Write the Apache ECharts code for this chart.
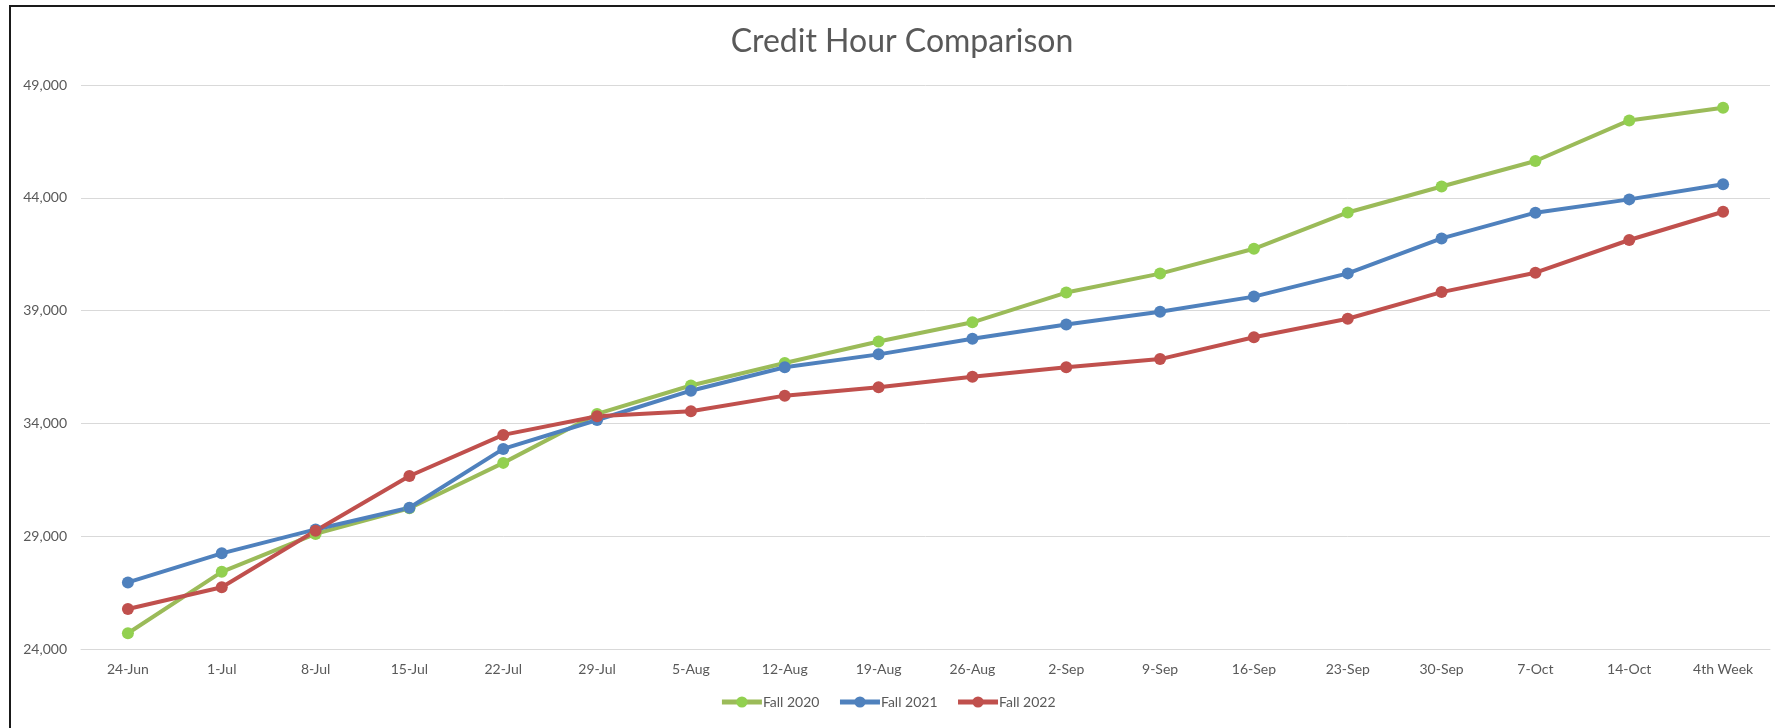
<!DOCTYPE html>
<html>
<head>
<meta charset="utf-8">
<script src="https://cdn.jsdelivr.net/npm/echarts@6/dist/echarts.min.js"></script>
<style>
  html, body { margin: 0; padding: 0; background: #ffffff; }
  #chart { width: 1775px; height: 728px; }
</style>
</head>
<body>
<div id="chart"></div>
<script>
const categories = ['24-Jun','1-Jul','8-Jul','15-Jul','22-Jul','29-Jul','5-Aug','12-Aug','19-Aug','26-Aug','2-Sep','9-Sep','16-Sep','23-Sep','30-Sep','7-Oct','14-Oct','4th Week'];
const fall2020 = [24700, 27420, 29100, 30240, 32250, 34420, 35680, 36680, 37630, 38480, 39800, 40640, 41740, 43350, 44500, 45630, 47430, 47990];
const fall2021 = [26950, 28240, 29300, 30260, 32870, 34150, 35450, 36490, 37060, 37750, 38380, 38950, 39620, 40650, 42200, 43340, 43930, 44600];
const fall2022 = [25770, 26740, 29240, 31670, 33490, 34320, 34540, 35230, 35600, 36070, 36490, 36850, 37820, 38640, 39820, 40680, 42130, 43380];
const seriesNames = ['Fall 2020', 'Fall 2021', 'Fall 2022'];
const titleText = 'Credit Hour Comparison';
const yMin = 24000, yMax = 49000, yStep = 5000;

const font = 'Lato, "Open Sans", sans-serif';
const chart = echarts.init(document.getElementById('chart'), null, { renderer: 'canvas' });

function lineSeries(name, data, lineColor, markerColor) {
  return {
    name: name,
    type: 'line',
    data: data,
    symbol: 'circle',
    symbolSize: 12,
    lineStyle: { color: lineColor, width: 4 },
    itemStyle: { color: markerColor, borderWidth: 0 },
    emphasis: { disabled: true },
    animation: false
  };
}

chart.setOption({
  backgroundColor: '#ffffff',
  animation: false,
  title: {
    text: titleText,
    left: 897,
    top: 21,
    textAlign: 'center',
    textStyle: { fontFamily: font, fontSize: 32, fontWeight: 'normal', color: '#595959' }
  },
  graphic: [{
    type: 'rect',
    silent: true,
    shape: { x: 10, y: 6, width: 1800, height: 800 },
    style: { fill: 'none', stroke: '#1a1a1a', lineWidth: 2 }
  }],
  legend: {
    data: seriesNames,
    bottom: 14,
    left: 'center',
    itemWidth: 40,
    itemHeight: 14,
    itemGap: 18,
    lineStyle: { width: 5 },
    textStyle: { fontFamily: font, fontSize: 14, color: '#595959', padding: [0, 0, 0, -4] }
  },
  grid: { left: 81, right: 5, top: 85, bottom: 79, containLabel: false },
  xAxis: {
    type: 'category',
    data: categories,
    boundaryGap: true,
    axisLine: { show: true, lineStyle: { color: '#d9d9d9', width: 1 } },
    axisTick: { show: false },
    axisLabel: { fontFamily: font, fontSize: 14, color: '#595959', margin: 13, interval: 0 },
    splitLine: { show: false }
  },
  yAxis: {
    type: 'value',
    min: yMin,
    max: yMax,
    interval: yStep,
    axisLine: { show: false },
    axisTick: { show: false },
    axisLabel: {
      fontFamily: font, fontSize: 14, color: '#595959', margin: 14,
      formatter: function (v) { return v.toLocaleString('en-US'); }
    },
    splitLine: { show: true, lineStyle: { color: '#d9d9d9', width: 1 } }
  },
  series: [
    lineSeries(seriesNames[0], fall2020, '#9BBB59', '#92D050'),
    lineSeries(seriesNames[1], fall2021, '#4F81BD', '#4F81BD'),
    lineSeries(seriesNames[2], fall2022, '#C0504D', '#C0504D')
  ]
});
</script>
</body>
</html>
